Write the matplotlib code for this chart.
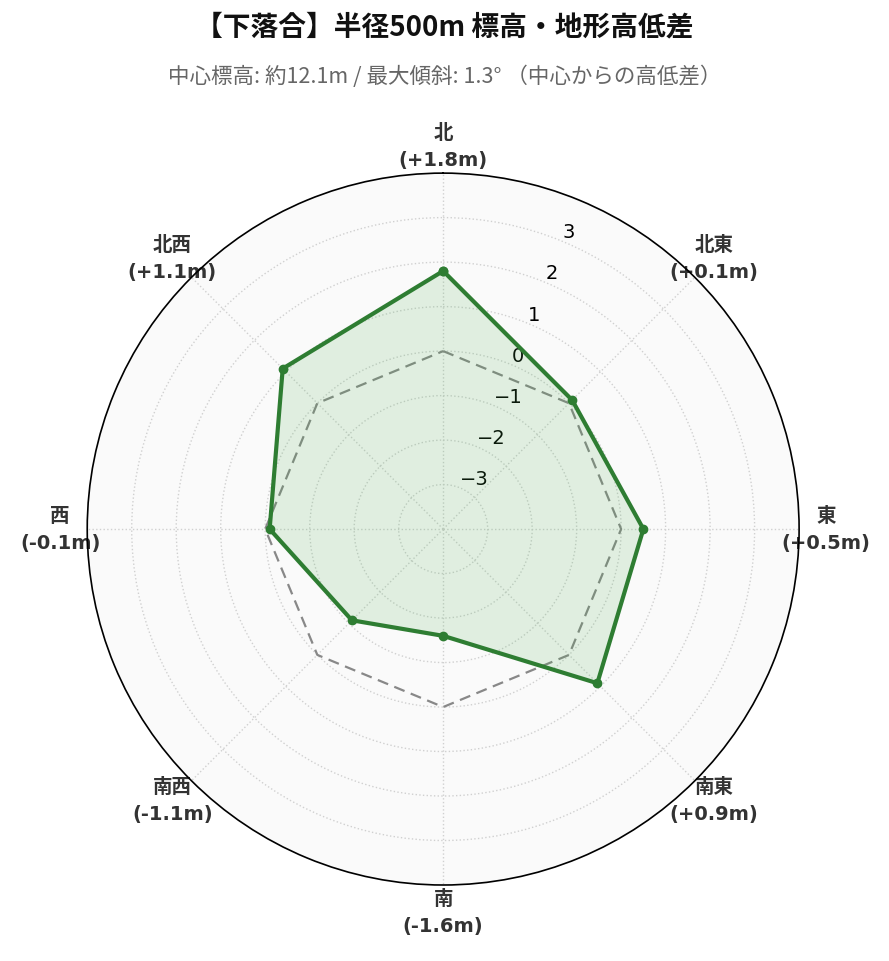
import numpy as np
import matplotlib
matplotlib.use('Agg')
import matplotlib.pyplot as plt

# 方位と中心からの高低差 (m)
directions = ['北', '北東', '東', '南東', '南', '南西', '西', '北西']
diffs = [1.8, 0.1, 0.5, 0.9, -1.6, -1.1, -0.1, 1.1]
baseline = [0, 0, 0, 0, 0, 0, 0, 0]
r_ticks = [-3, -2, -1, 0, 1, 2, 3]

title = '【下落合】半径500m 標高・地形高低差'
subtitle = '中心標高: 約12.1m / 最大傾斜: 1.3° （中心からの高低差）'

cjk = ['Noto Sans CJK JP', 'DejaVu Sans']
latin = ['DejaVu Sans', 'Noto Sans CJK JP']

angles = np.linspace(0, 2 * np.pi, len(directions), endpoint=False)
ang_closed = np.append(angles, angles[0])
vals = np.append(diffs, diffs[0])
base = np.append(baseline, baseline[0])

fig = plt.figure(figsize=(8.89, 9.62), dpi=100)
ax = fig.add_axes([0.098, 0.079, 0.801, 0.740], projection='polar')
ax.set_facecolor('#fafafa')
ax.set_theta_zero_location('N')
ax.set_theta_direction(-1)
ax.set_ylim(-4, 4)

ax.plot(ang_closed, base, color='#888888', lw=1.6, ls='--', dashes=(5, 3))
ax.fill(ang_closed, vals, color='#4caf50', alpha=0.15, zorder=2)
ax.plot(ang_closed, vals, color='#2e7d32', lw=3, marker='o', ms=6, zorder=3)

labels = [f'{d}\n({v:+.1f}m)' for d, v in zip(directions, diffs)]
ax.set_xticks(angles)
ax.set_xticklabels(labels, fontsize=14, fontweight='bold', color='#333333',
                   family=latin, linespacing=1.5)
ax.tick_params(axis='x', pad=9)

ax.set_yticks(r_ticks)
ax.set_yticklabels([f'{t}'.replace('-', '\u2212') for t in r_ticks],
                   fontsize=14, family=latin)
ax.set_rlabel_position(22.5)

ax.grid(True, color='#d0d0d0', ls=':', lw=1)
ax.spines['polar'].set_color('black')
ax.spines['polar'].set_linewidth(1.2)

fig.text(0.5, 0.971, title, ha='center', va='center', fontsize=20,
         fontweight='bold', family=cjk, color='#111111')
fig.text(0.5, 0.920, subtitle, ha='center', va='center', fontsize=15.5,
         family=cjk, color='#666666')

fig.savefig('out.png', dpi=100, facecolor='white')
